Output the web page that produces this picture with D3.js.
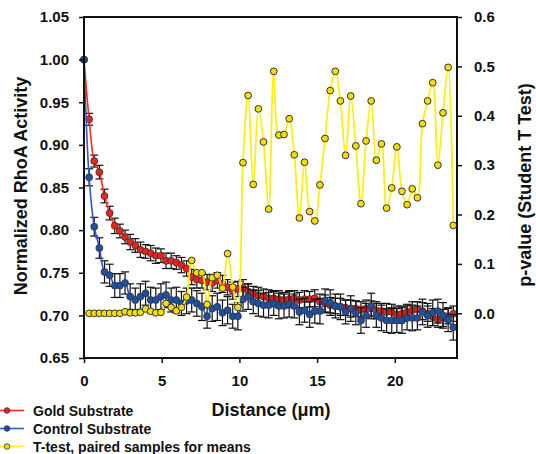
<!DOCTYPE html>
<html>
<head>
<meta charset="utf-8">
<script src="https://cdn.jsdelivr.net/npm/d3@7"></script>
<style>
    body { margin: 0; background: white; }
    svg { display: block; font-family: "Liberation Sans", Arial, sans-serif; font-weight: bold; }
</style>
</head>
<body>
<div id="chart"></div>
<script>
// Distance along the substrate (um)
const distance = [
    0, 0.33, 0.66, 0.99, 1.32, 1.65, 1.98, 2.31, 2.64, 2.97,
    3.30, 3.63, 3.96, 4.29, 4.62, 4.95, 5.28, 5.61, 5.94, 6.27,
    6.60, 6.93, 7.26, 7.59, 7.92, 8.25, 8.58, 8.91, 9.24, 9.57,
    9.90, 10.23, 10.56, 10.89, 11.22, 11.55, 11.88, 12.21, 12.54, 12.87,
    13.20, 13.53, 13.86, 14.19, 14.52, 14.85, 15.18, 15.51, 15.84, 16.17,
    16.50, 16.83, 17.16, 17.49, 17.82, 18.15, 18.48, 18.81, 19.14, 19.47,
    19.80, 20.13, 20.46, 20.79, 21.12, 21.45, 21.78, 22.11, 22.44, 22.77,
    23.10, 23.43, 23.76
];

// Gold substrate, normalized RhoA activity
const goldMean = [
    1.000, 0.930, 0.881, 0.868, 0.840, 0.820, 0.805, 0.799, 0.792, 0.786,
    0.782, 0.777, 0.775, 0.773, 0.770, 0.770, 0.764, 0.764, 0.762, 0.759,
    0.755, 0.745, 0.742, 0.741, 0.739, 0.738, 0.741, 0.737, 0.733, 0.729,
    0.731, 0.732, 0.728, 0.725, 0.723, 0.722, 0.720, 0.720, 0.719, 0.718,
    0.719, 0.720, 0.718, 0.719, 0.719, 0.720, 0.716, 0.714, 0.712, 0.711,
    0.710, 0.709, 0.708, 0.708, 0.707, 0.708, 0.708, 0.706, 0.705, 0.704,
    0.704, 0.701, 0.702, 0.704, 0.706, 0.707, 0.705, 0.702, 0.698, 0.695,
    0.697, 0.699, 0.702
];
const goldErr = [
    0, 0.007, 0.007, 0.008, 0.008, 0.008, 0.009, 0.008, 0.008, 0.009,
    0.008, 0.009, 0.008, 0.009, 0.009, 0.008, 0.009, 0.009, 0.008, 0.009,
    0.009, 0.009, 0.010, 0.009, 0.009, 0.010, 0.009, 0.010, 0.009, 0.010,
    0.009, 0.010, 0.009, 0.009, 0.010, 0.009, 0.010, 0.009, 0.010, 0.009,
    0.010, 0.009, 0.009, 0.010, 0.009, 0.010, 0.009, 0.010, 0.009, 0.009,
    0.010, 0.009, 0.010, 0.009, 0.009, 0.010, 0.009, 0.010, 0.009, 0.010,
    0.009, 0.010, 0.009, 0.009, 0.010, 0.009, 0.010, 0.009, 0.010, 0.009,
    0.010, 0.009, 0.009
];

// Control substrate, normalized RhoA activity
const controlMean = [
    1.000, 0.862, 0.804, 0.779, 0.751, 0.747, 0.735, 0.735, 0.738, 0.722,
    0.718, 0.722, 0.726, 0.718, 0.718, 0.722, 0.724, 0.718, 0.718, 0.714,
    0.717, 0.718, 0.714, 0.710, 0.699, 0.708, 0.710, 0.703, 0.706, 0.699,
    0.699, 0.719, 0.722, 0.716, 0.714, 0.712, 0.712, 0.714, 0.711, 0.711,
    0.713, 0.711, 0.704, 0.706, 0.701, 0.705, 0.705, 0.717, 0.715, 0.711,
    0.710, 0.704, 0.708, 0.703, 0.694, 0.700, 0.711, 0.700, 0.697, 0.694,
    0.694, 0.694, 0.694, 0.697, 0.697, 0.697, 0.704, 0.700, 0.703, 0.705,
    0.700, 0.695, 0.686
];
const controlErr = [
    0, 0.010, 0.011, 0.012, 0.013, 0.013, 0.014, 0.014, 0.013, 0.015,
    0.014, 0.015, 0.014, 0.015, 0.014, 0.015, 0.015, 0.014, 0.015, 0.014,
    0.015, 0.014, 0.015, 0.016, 0.014, 0.015, 0.016, 0.015, 0.016, 0.014,
    0.016, 0.014, 0.015, 0.014, 0.015, 0.014, 0.015, 0.014, 0.015, 0.014,
    0.015, 0.014, 0.015, 0.014, 0.015, 0.014, 0.015, 0.014, 0.015, 0.014,
    0.015, 0.014, 0.015, 0.014, 0.015, 0.014, 0.015, 0.014, 0.015, 0.014,
    0.015, 0.014, 0.015, 0.014, 0.015, 0.014, 0.015, 0.014, 0.015, 0.014,
    0.015, 0.014, 0.015
];

// Paired t-test p-values (none at distance 0)
const pValue = [
    null, 0.000, 0.000, 0.000, 0.000, 0.000, 0.000, 0.000, 0.003, 0.001,
    0.001, 0.002, 0.009, 0.004, 0.001, 0.002, 0.020, 0.012, 0.005, 0.012,
    0.033, 0.107, 0.082, 0.082, 0.018, 0.072, 0.077, 0.051, 0.121, 0.053,
    0.012, 0.305, 0.441, 0.261, 0.414, 0.347, 0.211, 0.490, 0.361, 0.362,
    0.394, 0.321, 0.193, 0.306, 0.206, 0.187, 0.260, 0.354, 0.451, 0.490,
    0.430, 0.320, 0.440, 0.339, 0.222, 0.349, 0.430, 0.310, 0.343, 0.213,
    0.254, 0.337, 0.247, 0.220, 0.252, 0.234, 0.384, 0.430, 0.467, 0.300,
    0.406, 0.498, 0.178
];

// Tick values
const xTicks = [0, 5, 10, 15, 20];
const leftTicks = [0.65, 0.70, 0.75, 0.80, 0.85, 0.90, 0.95, 1.00, 1.05];
const rightTicks = [0.0, 0.1, 0.2, 0.3, 0.4, 0.5, 0.6];

const legendItems = [
    { label: "Gold Substrate", line: "#ff2a1f", fill: "#e8231c" },
    { label: "Control Substrate", line: "#3558c8", fill: "#1e4fa3" },
    { label: "T-test, paired samples for means", line: "#ffee10", fill: "#f2df00" }
];

const W = 536, H = 454;
const plot = { left: 84, right: 457, top: 17, bottom: 358 };

const svg = d3.select("#chart").append("svg")
    .attr("width", W)
    .attr("height", H);

// Scales
const x = d3.scaleLinear().domain([0, 24]).range([plot.left, plot.right]);
const yL = d3.scaleLinear().domain([0.65, 1.05]).range([plot.bottom, plot.top]);
const yR = d3.scaleLinear().domain([-0.0905, 0.6]).range([plot.bottom, plot.top]);

function drawSeries(mean, err, lineColor, fillColor) {
    const pts = distance.map((d, i) => ({ d, v: mean[i], e: err[i] }));

    // error bars
    const eb = svg.append("g")
        .attr("stroke", "#111")
        .attr("stroke-width", 1.2);
    pts.filter(p => p.e > 0).forEach(p => {
        const cx = x(p.d), y1 = yL(p.v + p.e), y2 = yL(p.v - p.e);
        eb.append("line").attr("x1", cx).attr("x2", cx).attr("y1", y1).attr("y2", y2);
        eb.append("line").attr("x1", cx - 4).attr("x2", cx + 4).attr("y1", y1).attr("y2", y1);
        eb.append("line").attr("x1", cx - 4).attr("x2", cx + 4).attr("y1", y2).attr("y2", y2);
    });

    svg.append("path")
        .datum(pts)
        .attr("fill", "none")
        .attr("stroke", lineColor)
        .attr("stroke-width", 1.6)
        .attr("d", d3.line().x(p => x(p.d)).y(p => yL(p.v)).curve(d3.curveCatmullRom));

    svg.append("g").selectAll("circle")
        .data(pts)
        .enter()
        .append("circle")
        .attr("cx", p => x(p.d))
        .attr("cy", p => yL(p.v))
        .attr("r", 3.5)
        .attr("fill", fillColor)
        .attr("stroke", "#333")
        .attr("stroke-width", 0.8);
}

drawSeries(goldMean, goldErr, legendItems[0].line, legendItems[0].fill);
drawSeries(controlMean, controlErr, legendItems[1].line, legendItems[1].fill);

// p-value series on the right axis
const pPts = distance.map((d, i) => ({ d, p: pValue[i] })).filter(p => p.p !== null);

svg.append("path")
    .datum(pPts)
    .attr("fill", "none")
    .attr("stroke", legendItems[2].line)
    .attr("stroke-width", 1.8)
    .attr("d", d3.line().x(p => x(p.d)).y(p => yR(p.p)).curve(d3.curveCatmullRom));

svg.append("g").selectAll("circle")
    .data(pPts)
    .enter()
    .append("circle")
    .attr("cx", p => x(p.d))
    .attr("cy", p => yR(p.p))
    .attr("r", 3.4)
    .attr("fill", legendItems[2].fill)
    .attr("stroke", "#333")
    .attr("stroke-width", 1);

// Axes
const bottomAxis = svg.append("g")
    .attr("transform", `translate(0,${plot.bottom})`)
    .call(d3.axisBottom(x).tickValues(xTicks).tickSizeInner(5).tickSizeOuter(0).tickPadding(12));

const leftAxis = svg.append("g")
    .attr("transform", `translate(${plot.left},0)`)
    .call(d3.axisLeft(yL).tickValues(leftTicks).tickFormat(d3.format(".2f")).tickSizeInner(5).tickSizeOuter(0).tickPadding(10));

const rightAxis = svg.append("g")
    .attr("transform", `translate(${plot.right},0)`)
    .call(d3.axisRight(yR).tickValues(rightTicks).tickFormat(d3.format(".1f")).tickSizeInner(5).tickSizeOuter(0).tickPadding(12));

[bottomAxis, leftAxis, rightAxis].forEach(a => {
    a.selectAll("text")
        .attr("fill", "#111")
        .style("font-family", "'Liberation Sans', Arial, sans-serif")
        .style("font-weight", "bold")
        .style("font-size", "15px");
    a.selectAll("line").attr("stroke", "#111").attr("stroke-width", 1.5);
    a.select(".domain").remove();
});

// frame
svg.append("rect")
    .attr("x", plot.left)
    .attr("y", plot.top)
    .attr("width", plot.right - plot.left)
    .attr("height", plot.bottom - plot.top)
    .attr("fill", "none")
    .attr("stroke", "#111")
    .attr("stroke-width", 2);

// Axis titles
svg.append("text")
    .attr("transform", "translate(27,186) rotate(-90)")
    .attr("text-anchor", "middle")
    .style("font-size", "18px")
    .attr("fill", "#111")
    .text("Normalized RhoA Activity");

svg.append("text")
    .attr("transform", "translate(531,185) rotate(-90)")
    .attr("text-anchor", "middle")
    .style("font-size", "18px")
    .attr("fill", "#111")
    .text("p-value (Student T Test)");

svg.append("text")
    .attr("x", 271)
    .attr("y", 416)
    .attr("text-anchor", "middle")
    .style("font-size", "18px")
    .attr("fill", "#111")
    .text("Distance (\u03bcm)");

// Legend
const legend = svg.append("g");
legendItems.forEach((item, i) => {
    const ly = 410.5 + i * 18;
    legend.append("line")
        .attr("x1", 0).attr("x2", 24)
        .attr("y1", ly).attr("y2", ly)
        .attr("stroke", item.line)
        .attr("stroke-width", 1.6);
    legend.append("circle")
        .attr("cx", 7).attr("cy", ly).attr("r", 2.8)
        .attr("fill", item.fill)
        .attr("stroke", "#333")
        .attr("stroke-width", 0.8);
    legend.append("text")
        .attr("x", 33).attr("y", ly + 5)
        .style("font-size", "14px")
        .attr("fill", "#111")
        .text(item.label);
});
</script>
</body>
</html>
